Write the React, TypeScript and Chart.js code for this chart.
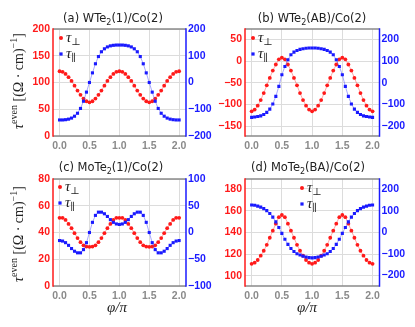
import React, { useEffect, useRef } from 'react';
import { Chart, registerables } from 'chart.js';
Chart.register(...registerables);

// phi / pi
const phi = [0, 0.05, 0.1, 0.15, 0.2, 0.25, 0.3, 0.35, 0.4, 0.45, 0.5, 0.55, 0.6, 0.65, 0.7, 0.75, 0.8, 0.85, 0.9, 0.95, 1.0,
  1.05, 1.1, 1.15, 1.2, 1.25, 1.3, 1.35, 1.4, 1.45, 1.5, 1.55, 1.6, 1.65, 1.7, 1.75, 1.8, 1.85, 1.9, 1.95, 2.0];

// (a) WTe2(1)/Co(2)
const aPerp = [121, 120, 116, 110, 103, 94, 85, 77, 70, 65, 63, 65, 70, 77, 85, 94, 103, 110, 116, 120, 121,
  120, 116, 110, 103, 94, 85, 77, 70, 65, 63, 65, 70, 77, 85, 94, 103, 110, 116, 120, 121];
const aPar = [-140, -140, -139, -137, -133, -126, -115, -97, -70, -36, 0, 36, 70, 97, 115, 126, 133, 137, 139, 140, 140,
  140, 139, 137, 133, 126, 115, 97, 70, 36, 0, -36, -70, -97, -115, -126, -133, -137, -139, -140, -140];

// (b) WTe2(AB)/Co(2)
const bPerp = [-116, -112, -103, -90, -74, -56, -39, -22, -8, 4, 8, 4, -8, -22, -39, -56, -74, -90, -103, -112, -116,
  -112, -103, -90, -74, -56, -39, -22, -8, 4, 8, 4, -8, -22, -39, -56, -74, -90, -103, -112, -116];
const bPar = [-160, -158, -156, -153, -147, -137, -122, -98, -63, -17, 37, 75, 106, 129, 141, 149, 154, 157, 159, 160, 160,
  160, 159, 157, 154, 149, 141, 129, 106, 75, 37, -17, -63, -98, -122, -137, -147, -153, -156, -158, -160];

// (c) MoTe2(1)/Co(2)
const cPerp = [51, 51, 49.4, 46.4, 43.2, 39.5, 35.8, 32.8, 30.4, 29.5, 29.3, 29.5, 30.4, 32.8, 35.8, 39.5, 43.2, 46.4, 49.4, 51, 51,
  51, 49.4, 46.4, 43.2, 39.5, 35.8, 32.8, 30.4, 29.5, 29.3, 29.5, 30.4, 32.8, 35.8, 39.5, 43.2, 46.4, 49.4, 51, 51];
const cPar = [-15, -16, -19, -24, -30, -35, -38, -38, -32, -19, 0, 19, 32, 38, 38, 35, 30, 24, 19, 16, 15,
  16, 19, 24, 30, 35, 38, 38, 32, 19, 0, -19, -32, -38, -38, -35, -30, -24, -19, -16, -15];

// (d) MoTe2(BA)/Co(2)
const dPerp = [111, 112, 114.5, 118.5, 123, 128.5, 135, 141.5, 148, 154, 156, 154, 148, 141.5, 135, 128.5, 123, 118.5, 114.5, 112, 111,
  112, 114.5, 118.5, 123, 128.5, 135, 141.5, 148, 154, 156, 154, 148, 141.5, 135, 128.5, 123, 118.5, 114.5, 112, 111];
const dPar = [126, 125, 121, 116, 109, 100, 87, 70, 48, 22, -5, -32, -56, -75, -89, -99, -105, -110, -114, -117, -118,
  -117, -114, -110, -105, -99, -89, -75, -56, -32, -5, 22, 48, 70, 87, 100, 109, 116, 121, 125, 126];

const xTicks = [0, 0.5, 1.0, 1.5, 2.0];
const aLeftTicks = [0, 50, 100, 150, 200];
const aRightTicks = [-200, -100, 0, 100, 200];
const bLeftTicks = [-150, -100, -50, 0, 50];
const bRightTicks = [-200, -100, 0, 100, 200];
const cLeftTicks = [0, 20, 40, 60, 80];
const cRightTicks = [-100, -50, 0, 50, 100];
const dLeftTicks = [100, 120, 140, 160, 180];
const dRightTicks = [-200, -100, 0, 100, 200];

const titles = [
  ['(a) WTe', '2', '(1)/Co(2)'],
  ['(b) WTe', '2', '(AB)/Co(2)'],
  ['(c) MoTe', '2', '(1)/Co(2)'],
  ['(d) MoTe', '2', '(BA)/Co(2)'],
];

const W = 415, H = 327;
const YLW = 30, YRW = 28, XH = 20;
const RED = '#ff1a1a', BLUE = '#1a1aff', GRAY = '#8a8a8a', GRID = '#dcdcdc';
const TICKFONT = { family: '"Liberation Sans", Arial, sans-serif', size: 10.5, weight: 'bold' as const };

type Panel = {
  perp: number[]; par: number[];
  L: number; R: number; T: number; B: number;
  yMin: number; yMax: number; yTicks: number[];
  y1Min: number; y1Max: number; y1Ticks: number[];
  title: string[]; titleX: number; titleY: number;
  legX: number; legY: number;
  yTitle?: { x: number; cy: number };
  xTitle?: { x: number; y: number };
};

const panels: Panel[] = [
  { perp: aPerp, par: aPar, L: 53, R: 186, T: 29, B: 136, yMin: 0, yMax: 200, yTicks: aLeftTicks,
    y1Min: -200, y1Max: 200, y1Ticks: aRightTicks, title: titles[0], titleX: 113, titleY: 18,
    legX: 61, legY: 38, yTitle: { x: 18, cy: 81 } },
  { perp: bPerp, par: bPar, L: 245, R: 379.5, T: 29, B: 136, yMin: -173, yMax: 74, yTicks: bLeftTicks,
    y1Min: -246, y1Max: 248, y1Ticks: bRightTicks, title: titles[1], titleX: 312, titleY: 18,
    legX: 253, legY: 38 },
  { perp: cPerp, par: cPar, L: 53, R: 186, T: 179, B: 286, yMin: 0, yMax: 80, yTicks: cLeftTicks,
    y1Min: -100, y1Max: 100, y1Ticks: cRightTicks, title: titles[2], titleX: 111, titleY: 167,
    legX: 60, legY: 187, yTitle: { x: 18, cy: 234 }, xTitle: { x: 117, y: 307 } },
  { perp: dPerp, par: dPar, L: 245, R: 379.5, T: 179, B: 286, yMin: 90.5, yMax: 189.2, yTicks: dLeftTicks,
    y1Min: -248, y1Max: 246, y1Ticks: dRightTicks, title: titles[3], titleX: 308, titleY: 167,
    legX: 302, legY: 188, xTitle: { x: 307, y: 307 } },
];

type Seg = { t: string; font: string; dy: number };

function drawSegs(ctx: CanvasRenderingContext2D, segs: Seg[], cx: number, y: number) {
  let total = 0;
  for (const s of segs) { ctx.font = s.font; total += ctx.measureText(s.t).width; }
  let x = cx - total / 2;
  ctx.textAlign = 'left';
  ctx.textBaseline = 'alphabetic';
  for (const s of segs) {
    ctx.font = s.font;
    ctx.fillText(s.t, x, y + s.dy);
    x += ctx.measureText(s.t).width;
  }
}

function makeDeco(p: Panel) {
  return {
    id: 'deco',
    afterDatasetsDraw(chart: any) {
      const ctx: CanvasRenderingContext2D = chart.ctx;
      const { left, right, top, bottom } = chart.chartArea;
      ctx.save();
      // frame
      ctx.lineWidth = 1.5;
      const ln = (x1: number, y1: number, x2: number, y2: number, c: string) => {
        ctx.strokeStyle = c; ctx.beginPath(); ctx.moveTo(x1, y1); ctx.lineTo(x2, y2); ctx.stroke();
      };
      ln(left, top, right, top, GRAY);
      ln(left, bottom, right, bottom, GRAY);
      ln(left, top - 0.75, left, bottom + 0.75, RED);
      ln(right, top - 0.75, right, bottom + 0.75, BLUE);

      // legend
      const serif = '"Liberation Serif", "DejaVu Serif", serif';
      const rows: [string, string, string][] = [[RED, '\u22A5', 'circle'], [BLUE, '\u2225', 'rect']];
      rows.forEach(([col, sub, shape], i) => {
        const y = p.legY + i * 16;
        ctx.fillStyle = col;
        if (shape === 'circle') { ctx.beginPath(); ctx.arc(p.legX, y, 2, 0, Math.PI * 2); ctx.fill(); }
        else ctx.fillRect(p.legX - 1.6, y - 1.6, 3.2, 3.2);
        ctx.fillStyle = '#222';
        ctx.textAlign = 'left'; ctx.textBaseline = 'alphabetic';
        ctx.font = `italic 15px ${serif}`;
        ctx.fillText('\u03C4', p.legX + 5, y + 4);
        const w = ctx.measureText('\u03C4').width;
        ctx.font = `10px ${serif}`;
        ctx.fillText(sub, p.legX + 5 + w, y + 7);
      });

      // title
      ctx.fillStyle = '#222';
      const sans = '"DejaVu Sans", sans-serif';
      drawSegs(ctx, [
        { t: p.title[0], font: `11.5px ${sans}`, dy: 0 },
        { t: p.title[1], font: `8px ${sans}`, dy: 3 },
        { t: p.title[2], font: `11.5px ${sans}`, dy: 0 },
      ], p.titleX, p.titleY + 4);

      // y title
      if (p.yTitle) {
        ctx.save();
        ctx.translate(p.yTitle.x, p.yTitle.cy);
        ctx.rotate(-Math.PI / 2);
        drawSegs(ctx, [
          { t: '\u03C4', font: `italic 14px ${serif}`, dy: 0 },
          { t: 'even', font: `10px ${serif}`, dy: -6 },
          { t: ' [(\u03A9 \u00B7 cm)', font: `14px ${serif}`, dy: 0 },
          { t: '\u22121', font: `10px ${serif}`, dy: -6 },
          { t: ']', font: `14px ${serif}`, dy: 0 },
        ], 0, 5);
        ctx.restore();
      }
      // x title
      if (p.xTitle) {
        drawSegs(ctx, [{ t: '\u03C6/\u03C0', font: `italic 15px ${serif}`, dy: 0 }], p.xTitle.x, p.xTitle.y + 5);
      }
      ctx.restore();
    },
  };
}

function buildChart(canvas: HTMLCanvasElement, p: Panel) {
  const fixTicks = (vals: number[]) => (s: any) => { s.ticks = vals.map((v) => ({ value: v })); };
  return new Chart(canvas, {
    type: 'line',
    data: {
      datasets: [
        {
          label: 'τ∥', yAxisID: 'y1', order: 0,
          data: phi.map((x, i) => ({ x, y: p.par[i] })),
          borderColor: 'rgba(60,60,255,0.45)', borderWidth: 1,
          pointStyle: 'rect', pointRadius: 2.2, pointBackgroundColor: BLUE, pointBorderWidth: 0,
        },
        {
          label: 'τ⊥', yAxisID: 'y', order: 1,
          data: phi.map((x, i) => ({ x, y: p.perp[i] })),
          borderColor: 'rgba(255,60,60,0.45)', borderWidth: 1,
          pointStyle: 'circle', pointRadius: 1.9, pointBackgroundColor: RED, pointBorderWidth: 0,
        },
      ],
    },
    options: {
      responsive: false,
      animation: false,
      events: [],
      layout: { padding: { left: p.L - YLW, right: W - p.R - YRW, top: p.T, bottom: H - p.B - XH } },
      plugins: { legend: { display: false }, tooltip: { enabled: false }, title: { display: false } },
      scales: {
        x: {
          type: 'linear', min: -0.11, max: 2.115,
          afterFit: (s: any) => { s.height = XH; },
          afterBuildTicks: fixTicks(xTicks),
          ticks: { color: GRAY, font: TICKFONT, padding: 4, autoSkip: false, maxRotation: 0,
            callback: (v: any) => Number(v).toFixed(1) },
          grid: { color: GRID, drawTicks: false, lineWidth: 1 },
          border: { display: false },
        },
        y: {
          type: 'linear', position: 'left', min: p.yMin, max: p.yMax,
          afterFit: (s: any) => { s.width = YLW; },
          afterBuildTicks: fixTicks(p.yTicks),
          ticks: { color: RED, font: TICKFONT, padding: 3, autoSkip: false,
            callback: (v: any) => String(v).replace('-', '\u2212') },
          grid: { color: GRID, drawTicks: false, lineWidth: 1 },
          border: { display: false },
        },
        y1: {
          type: 'linear', position: 'right', min: p.y1Min, max: p.y1Max,
          afterFit: (s: any) => { s.width = YRW; },
          afterBuildTicks: fixTicks(p.y1Ticks),
          ticks: { color: BLUE, font: TICKFONT, padding: 2, autoSkip: false,
            callback: (v: any) => String(v).replace('-', '\u2212') },
          grid: { display: false, drawTicks: false },
          border: { display: false },
        },
      },
    } as any,
    plugins: [makeDeco(p)],
  });
}

export default function App() {
  const refs = [useRef<HTMLCanvasElement>(null), useRef<HTMLCanvasElement>(null),
    useRef<HTMLCanvasElement>(null), useRef<HTMLCanvasElement>(null)];
  useEffect(() => {
    const charts = panels.map((p, i) => buildChart(refs[i].current!, p));
    return () => charts.forEach((c) => c.destroy());
  }, []);
  return (
    <div style={{ position: 'fixed', left: 0, top: 0, width: W, height: H, background: '#fff' }}>
      {panels.map((_, i) => (
        <canvas key={i} ref={refs[i]} width={W} height={H}
          style={{ position: 'absolute', left: 0, top: 0, width: W, height: H }} />
      ))}
    </div>
  );
}
